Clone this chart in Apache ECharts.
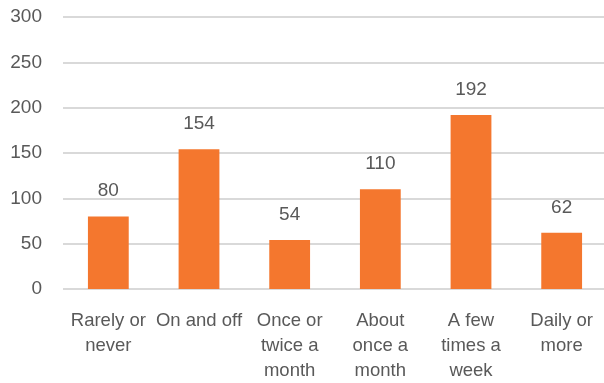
<!DOCTYPE html>
<html>
<head>
<meta charset="utf-8">
<script src="https://cdn.jsdelivr.net/npm/echarts@6/dist/echarts.min.js"></script>
<style>
  html, body { margin: 0; padding: 0; background: #fff; }
  #chart { width: 604px; height: 383px; }
</style>
</head>
<body>
<div id="chart"></div>
<script>
// data
const categories = ['Rarely or\nnever', 'On and off', 'Once or\ntwice a\nmonth', 'About\nonce a\nmonth', 'A few\ntimes a\nweek', 'Daily or\nmore']
const counts = [80, 154, 54, 110, 192, 62]

const chart = echarts.init(document.getElementById('chart'))
chart.setOption({
  animation: false,
  textStyle: { fontFamily: 'Liberation Sans, Arial, sans-serif' },
  grid: {
    left: 63,
    right: -3,
    top: 17,
    bottom: 94,
    outerBoundsMode: 'none'
  },
  xAxis: {
    type: 'category',
    data: categories,
    axisLine: { show: false },
    axisTick: { show: false },
    axisLabel: {
      color: '#595959',
      fontSize: 18.5,
      lineHeight: 25,
      margin: 19,
      interval: 0
    }
  },
  yAxis: {
    type: 'value',
    min: 0,
    max: 300,
    interval: 50,
    axisLine: { show: false },
    axisTick: { show: false },
    axisLabel: {
      color: '#595959',
      fontSize: 19,
      margin: 21
    },
    splitLine: {
      lineStyle: { color: '#d9d9d9', width: 2 }
    }
  },
  series: [
    {
      type: 'bar',
      data: counts,
      barWidth: '45%',
      itemStyle: { color: '#f4772e' },
      label: {
        show: true,
        position: 'top',
        distance: 16,
        color: '#595959',
        fontSize: 19
      }
    }
  ]
})
</script>
</body>
</html>
